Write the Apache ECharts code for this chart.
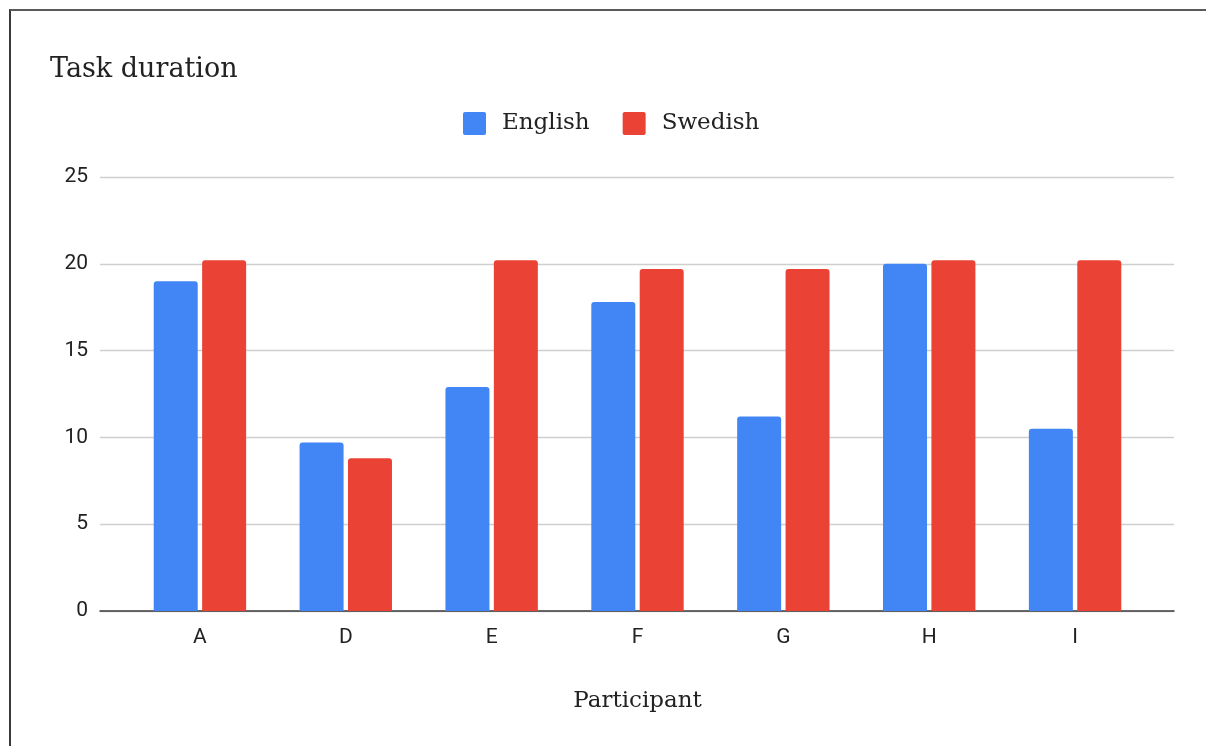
<!DOCTYPE html>
<html>
<head>
<meta charset="utf-8">
<title>Task duration</title>
<script src="https://cdn.jsdelivr.net/npm/echarts@6/dist/echarts.min.js"></script>
<style>
  html, body { margin: 0; padding: 0; background: #fff; }
  #chart { position: absolute; left: 0; top: 0; width: 1206px; height: 746px; }
  #frame {
    position: absolute; left: 9px; top: 9px; right: 0; bottom: 0;
    border-top: 2px solid #5a5a5a; border-left: 2px solid #3a3a3a;
    pointer-events: none;
  }
</style>
</head>
<body>
<div id="chart"></div>
<div id="frame"></div>
<script>
// Participants on the category axis
const participants = ['A', 'D', 'E', 'F', 'G', 'H', 'I'];
// Task duration per participant, by language
const englishValues = [19.0, 9.7, 12.9, 17.8, 11.2, 20.0, 10.5];
const swedishValues = [20.2, 8.8, 20.2, 19.7, 19.7, 20.2, 20.2];
const seriesNames = ['English', 'Swedish'];
const yTicks = { min: 0, max: 25, step: 5 };

const serif = "'DejaVu Serif', 'Liberation Serif', serif";
const sans = "Roboto, 'Liberation Sans', Arial, sans-serif";

// square legend swatch with slightly rounded corners
const swatch = 'path://M2,0 H21 A2,2 0 0 1 23,2 V21 A2,2 0 0 1 21,23 H2 A2,2 0 0 1 0,21 V2 A2,2 0 0 1 2,0 Z';

const chart = echarts.init(document.getElementById('chart'), null, { renderer: 'canvas' });

const plotTop = 177, plotBottom = 135;

chart.setOption({
  animation: false,
  backgroundColor: '#ffffff',
  title: {
    text: 'Task duration',
    left: 50, top: 56, padding: 0,
    textStyle: { fontFamily: serif, fontSize: 27, fontWeight: 'normal', color: '#222' }
  },
  legend: {
    data: seriesNames,
    left: 463, top: 112, padding: 0,
    itemWidth: 23, itemHeight: 23, itemGap: 33,
    icon: swatch,
    textStyle: { fontFamily: serif, fontSize: 23, color: '#222', padding: [0, 0, 0, 11] }
  },
  grid: [
    // full-width grid carrying gridlines, y labels and the baseline
    { left: 100, right: 32, top: plotTop, bottom: plotBottom },
    // inset grid where the bars are laid out
    { left: 127, right: 58, top: plotTop, bottom: plotBottom }
  ],
  xAxis: [
    {
      type: 'value', gridIndex: 0, min: 0, max: 1,
      axisLine: { show: true, lineStyle: { color: '#3c3c3c', width: 1.6 } },
      axisTick: { show: false }, axisLabel: { show: false }, splitLine: { show: false }
    },
    {
      type: 'category', gridIndex: 1, data: participants,
      axisLine: { show: false }, axisTick: { show: false },
      axisLabel: { margin: 16, fontFamily: sans, fontSize: 21, color: '#222' },
      name: 'Participant', nameLocation: 'middle', nameGap: 79,
      nameTextStyle: { fontFamily: serif, fontSize: 23, color: '#222' }
    }
  ],
  yAxis: [
    {
      type: 'value', gridIndex: 0, min: yTicks.min, max: yTicks.max, interval: yTicks.step,
      axisLine: { show: false }, axisTick: { show: false },
      axisLabel: { margin: 12, fontFamily: sans, fontSize: 21, color: '#222' },
      splitLine: { show: true, lineStyle: { color: '#cfcfcf', width: 1.3 } }
    },
    {
      type: 'value', gridIndex: 1, min: yTicks.min, max: yTicks.max, interval: yTicks.step,
      show: false
    }
  ],
  series: [
    {
      name: seriesNames[0], type: 'bar', xAxisIndex: 1, yAxisIndex: 1,
      data: englishValues, barWidth: 44, barGap: '10%',
      itemStyle: { color: '#4285F4', borderRadius: [3, 3, 0, 0] }
    },
    {
      name: seriesNames[1], type: 'bar', xAxisIndex: 1, yAxisIndex: 1,
      data: swedishValues, barWidth: 44, barGap: '10%',
      itemStyle: { color: '#EA4335', borderRadius: [3, 3, 0, 0] }
    }
  ]
});
</script>
</body>
</html>
